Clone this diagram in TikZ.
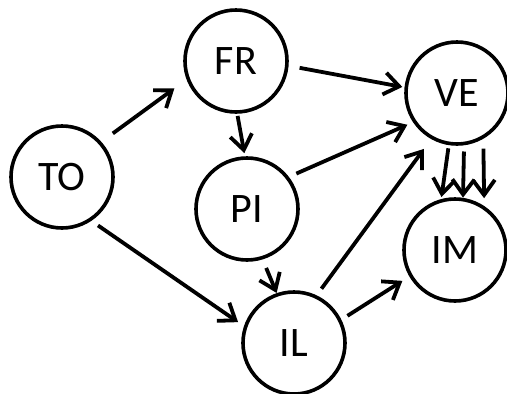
\documentclass[tikz,border=0pt]{standalone}
\usepackage{fontspec}
\setmainfont{Carlito}
\usetikzlibrary{arrows.meta}
\begin{document}
\begin{tikzpicture}[x=1pt,y=-1pt,
  state/.style={circle,draw,line width=3.6pt,minimum size=102pt,inner sep=0pt,outer sep=0pt,font=\fontsize{42}{48}\selectfont},
  edge/.style={line width=3.8pt,-{Straight Barb[length=15pt,width=22pt]}}]
\useasboundingbox (0,0) rectangle (507,394);

% States
\node[state] (TO) at (62,177) {TO};
\node[state] (FR) at (236,61) {FR};
\node[state] (PI) at (247,209) {PI};
\node[state] (VE) at (457,93) {VE};
\node[state] (IM) at (455,250) {IM};
\node[state] (IL) at (294,343) {IL};

% Edges
\draw[edge,shorten <=16pt,shorten >=17pt] (TO.42) -- (FR.200);
\draw[edge,shorten <=10pt,shorten >=9pt] (TO.303) -- (IL.162);
\draw[edge,shorten <=13pt,shorten >=4pt] (FR.355) -- (VE.174);
\draw[edge,shorten <=4pt,shorten >=5pt] (FR.271) -- (PI.92);
\draw[edge,shorten <=10pt,shorten >=8pt] (PI.38) -- (VE.214);
\draw[edge,shorten <=11pt,shorten >=2pt] (PI.287) -- (IL.109);
\draw[edge,shorten <=10pt,shorten >=14pt] (IL.65) -- (VE.241);
\draw[edge,shorten <=9pt,shorten >=10pt] (IL.26) -- (IM.210);

% Triple edge VE -> IM
\foreach \a/\b/\s/\t in {261/106/5/4, 278/81/8/2, 301/55/12/10}
  \draw[edge,shorten <=\s pt,shorten >=\t pt] (VE.\a) -- (IM.\b);

\end{tikzpicture}
\end{document}
